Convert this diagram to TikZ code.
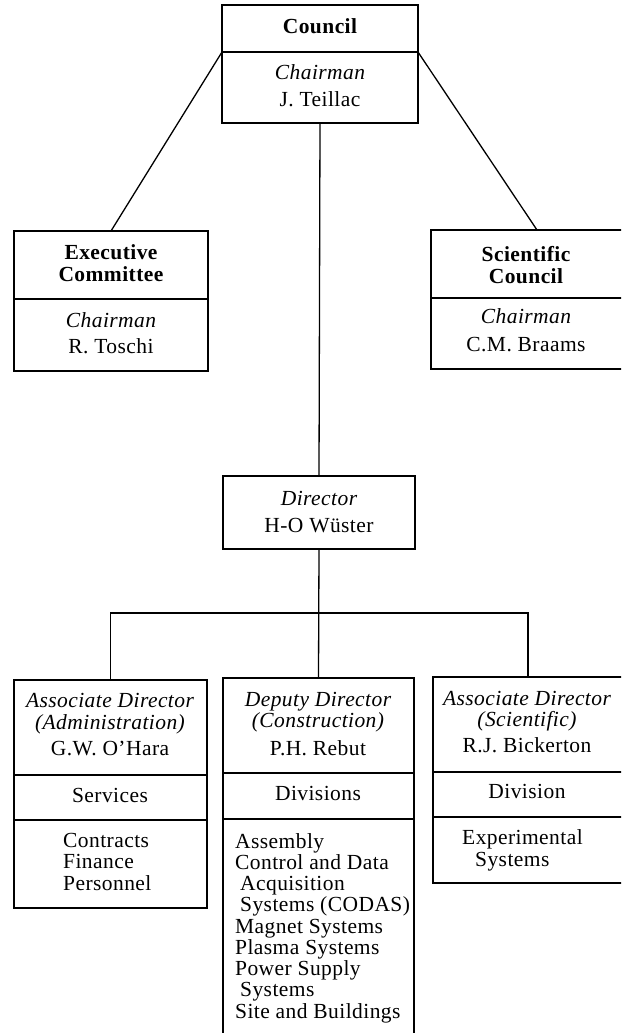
\documentclass[tikz,border=0pt]{standalone}
\usepackage{fontspec}
\setmainfont[LetterSpace=2]{Liberation Serif}
\newcommand\chartfs{\fontsize{21.5}{21}\selectfont}
\tikzset{
  box/.style={draw, line width=1.3pt, rectangle, inner sep=0pt, outer sep=0pt, anchor=north west},
  sep/.style={line width=1.3pt},
  conn/.style={line width=1.3pt},
  t/.style={anchor=base, inner sep=0pt, font=\chartfs},
  ti/.style={t, font=\chartfs\itshape},
  tb/.style={t, font=\chartfs\bfseries},
  tl/.style={anchor=base west, inner sep=0pt, font=\chartfs},
}
\begin{document}
\begin{tikzpicture}[x=1pt,y=-1pt]
\useasboundingbox (0,0) rectangle (621,1033);
\clip (0,0) rectangle (621,1033);
\fill[white] (0,0) rectangle (621,1033);

% boxes
\node[box, minimum width=196pt, minimum height=118pt] (council) at (222,5) {};
\node[box, minimum width=194pt, minimum height=140pt] (exec) at (14,231) {};
\node[box, minimum width=195pt, minimum height=139pt] (sci) at (431,230) {};
\node[box, minimum width=192pt, minimum height=73pt] (director) at (223,476) {};
\node[box, minimum width=193pt, minimum height=228pt] (admin) at (14,680) {};
\node[box, minimum width=191pt, minimum height=362pt] (constr) at (223,678) {};
\node[box, minimum width=190pt, minimum height=206pt] (scient) at (433,677) {};

% dividers
\coordinate (cdl) at (council.west |- 0,52);
\coordinate (cdr) at (council.east |- 0,52);
\draw[sep] (cdl) -- (cdr);
\draw[sep] (exec.west |- 0,299) -- (exec.east |- 0,299);
\draw[sep] (sci.west |- 0,298) -- (sci.east |- 0,298);
\draw[sep] (admin.west |- 0,775) -- (admin.east |- 0,775);
\draw[sep] (admin.west |- 0,820) -- (admin.east |- 0,820);
\draw[sep] (constr.west |- 0,773) -- (constr.east |- 0,773);
\draw[sep] (constr.west |- 0,819) -- (constr.east |- 0,819);
\draw[sep] (scient.west |- 0,772) -- (scient.east |- 0,772);
\draw[sep] (scient.west |- 0,817) -- (scient.east |- 0,817);

% connectors
\coordinate (scitop) at (537,230);
\draw[conn] (cdl) -- (exec.north);
\draw[conn] (cdr) -- (scitop);
\draw[conn] (council.south) -- (director.north);
\coordinate (bar) at (319,613);
\draw[conn] (director.south) -- (constr.north);
\draw[conn] (admin.north) |- (bar) -| (scient.north);

% council texts
\node[tb] (c1) at (320,34) {Council};
\node[ti] (c2) at (320,80) {Chairman};
\node[t]  (c3) at (320,106) {J. Teillac};

% executive committee
\node[tb] (e1) at (111,259) {Executive};
\node[tb] (e2) at (111,281) {Committee};
\node[ti] (e3) at (111,327) {Chairman};
\node[t]  (e4) at (111,353) {R. Toschi};

% scientific council
\node[tb] (s1) at (526,261) {Scientific};
\node[tb] (s2) at (526,283) {Council};
\node[ti] (s3) at (526,323) {Chairman};
\node[t]  (s4) at (526,351) {C.M. Braams};

% director
\node[ti] (d1) at (319,505) {Director};
\node[t]  (d2) at (319,532) {H-O Wüster};

% admin
\node[ti] (a1) at (110,707) {Associate Director};
\node[ti] (a2) at (110,729) {(Administration)};
\node[t]  (a3) at (110,755) {G.W. O’Hara};
\node[t]  (a4) at (110,802) {Services};
\node[tl] (a5) at (63,847) {Contracts};
\node[tl] (a6) at (63,868) {Finance};
\node[tl] (a7) at (63,890) {Personnel};

% construction
\node[ti] (m1) at (318,706) {Deputy Director};
\node[ti] (m2) at (318,727) {(Construction)};
\node[t]  (m3) at (318,755) {P.H. Rebut};
\node[t]  (m4) at (318,800) {Divisions};
\node[tl] (m5) at (235,848) {Assembly};
\node[tl] (m6) at (235,869) {Control and Data};
\node[tl] (m7) at (240,890) {Acquisition};
\node[tl] (m8) at (240,911) {Systems (CODAS)};
\node[tl] (m9) at (235,933) {Magnet Systems};
\node[tl] (m10) at (235,954) {Plasma Systems};
\node[tl] (m11) at (235,975) {Power Supply};
\node[tl] (m12) at (240,996) {Systems};
\node[tl] (m13) at (235,1018) {Site and Buildings};

% scientific
\node[ti] (r1) at (527,705) {Associate Director};
\node[ti] (r2) at (527,726) {(Scientific)};
\node[t]  (r3) at (527,752) {R.J. Bickerton};
\node[t]  (r4) at (527,798) {Division};
\node[tl] (r5) at (462,844) {Experimental};
\node[tl] (r6) at (475,866) {Systems};
\end{tikzpicture}
\end{document}
